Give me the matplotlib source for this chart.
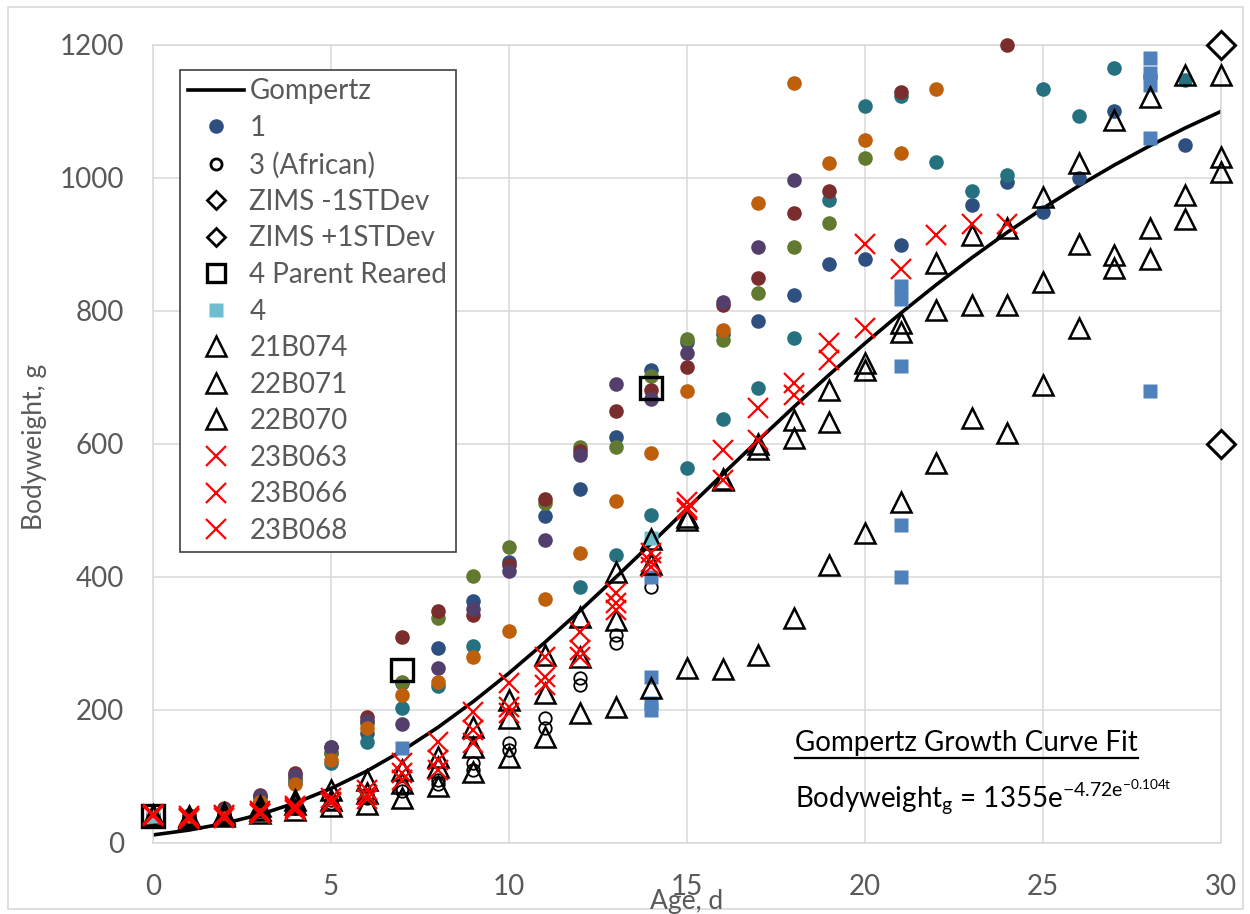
import matplotlib
matplotlib.use("Agg")
import matplotlib.pyplot as plt
import numpy as np
from matplotlib.lines import Line2D
from matplotlib.patches import Rectangle

nan = np.nan

# Gompertz fit, read at whole days
age = list(range(31))
gompertz = [12.1, 19.3, 29.3, 42.8, 60.2, 81.9, 108.0, 138.7, 173.7, 212.8, 255.5,
            301.3, 349.5, 399.5, 450.8, 502.6, 554.3, 605.5, 655.6, 704.4, 751.4,
            796.5, 839.4, 880.0, 918.4, 954.4, 988.0, 1019.3, 1048.4, 1075.3, 1100.1]

# coloured birds (values from day 0 onwards)
bird1 = [40, 40, 48, 62, 95, 135, 165, 240, 293, 364, 423, 492, 532, 610, 711, 753,
         765, 785, 824, 871, 878, 899, nan, 959, 994, 949, 1000, 1100, nan, 1050]
bird_teal = [38, 38, 45, 60, 90, 120, 152, 203, 236, 296, nan, nan, 385, 433, 493, 564,
             638, 684, 759, 967, 1108, 1123, 1024, 980, 1004, 1134, 1093, 1165, 1154, 1147]
bird_olive = [42, 40, 50, 68, 98, 135, 180, 242, 338, 401, 445, 511, 596, 596, 702, 758,
              757, 827, 896, 932, 1030]
bird_red = [42, 42, 52, 72, 105, 145, 190, 310, 349, 343, 418, 517, 590, 650, 681, 716,
            809, 850, 947, 981, nan, 1129, nan, nan, 1200]
bird_purple = [40, 40, 50, 70, 102, 145, 183, 179, 263, 352, 409, 456, 583, 690, 668, 737,
               813, 896, 997]
bird_orange = [38, 38, 45, 62, 88, 125, 173, 222, 242, 280, 319, 367, 436, 514, 586, 680,
               771, 962, 1143, 1022, 1057, 1038, 1134]

# 3 (African)
african_a = [40, 38, 42, 48, 55, 65, 72, 82, 95, 120, 150, 188, 248, 313, 385]
african_b = [38, 36, 40, 45, 52, 60, 68, 78, 88, 110, 140, 173, 238, 301]

# triangles
b21074 = [42, 40, 45, 55, 65, 80, 95, 110, 130, 175, 215, 283, 340, 408, 457, 490, 548,
          600, 636, 681, 722, 782, 872, 914, 925, 971, 1022, 1087, 1122, 1155, 1155]
b22071 = [40, 38, 42, 50, 58, 65, 75, 90, 115, 145, 188, 225, 280, 335, 420, 486, 546,
          593, 609, 633, 711, 769, 802, 809, 809, 843, 900, 884, 925, 974, 1032]
b22070 = [40, 38, 40, 45, 50, 55, 58, 68, 85, 107, 130, 160, 195, 205, 233, 263, 262,
          283, 338, 418, 466, 513, 571, 639, 616, 689, 774, 865, 878, 938, 1009]

# crosses
b23063 = [42, 40, 42, 48, 55, 68, 80, 120, 152, 197, 240, 280, 317, 376, 436, 512, 591,
          654, 692, 752, 901, 863, 914, 931, 931]
b23066 = [40, 38, 40, 45, 52, 62, 72, 105, 125, 170, 205, 250, 290, 361, 423, 504, 546,
          606, 674, 726, 774]
b23068 = [44, 36, 38, 44, 50, 60, 66, 95, 110, 150, 195, 238, 280, 350, 415, 500]

# squares
sq_age = [7, 14, 14, 14, 14, 21, 21, 21, 21, 21, 28, 28, 28, 28, 28]
sq_val = [143, 250, 210, 200, 400, 838, 818, 718, 478, 400, 1180, 1158, 1140, 1060, 680]
bird4_age = [0, 14]
bird4_val = [40, 459]
parent_age = [0, 7, 14]
parent_val = [40, 260, 684]
zims_age = [30]
zims_minus = [600]
zims_plus = [1200]

plt.rcParams['font.family'] = ['Lato', 'DejaVu Sans']
plt.rcParams['mathtext.fontset'] = 'custom'
plt.rcParams['mathtext.rm'] = 'Lato'
plt.rcParams['mathtext.it'] = 'Lato:italic'
plt.rcParams['mathtext.default'] = 'regular'

gray = '#595959'
fig = plt.figure(figsize=(12.5, 9.14), dpi=100)
ax = fig.add_axes([0.1224, 0.0777, 0.8544, 0.8731])

ax.plot(age, gompertz, color='black', lw=2.6, label='Gompertz', zorder=2)


def dots(vals, color, label='_nolegend_'):
    ax.plot(range(len(vals)), vals, ls='none', marker='o', ms=10.5, color=color,
            mec='none', label=label, clip_on=False, zorder=3)


dots(bird1, '#2d5080', '1')
for vals, col in [(bird_teal, '#26717f'), (bird_olive, '#627a2f'), (bird_red, '#7b2c2c'),
                  (bird_purple, '#533f6b'), (bird_orange, '#be5f0b')]:
    dots(vals, col)
ax.plot(range(len(african_a)), african_a, ls='none', marker='o', ms=9, mfc='none',
        mec='black', mew=1.3, label='3 (African)', zorder=4)
ax.plot(range(len(african_b)), african_b, ls='none', marker='o', ms=9, mfc='none',
        mec='black', mew=1.3, zorder=4)
ax.plot(zims_age, zims_minus, ls='none', marker='D', ms=14, mfc='white', mec='black',
        mew=2.2, label='ZIMS -1STDev', clip_on=False, zorder=5)
ax.plot(zims_age, zims_plus, ls='none', marker='D', ms=14, mfc='white', mec='black',
        mew=2.2, label='ZIMS +1STDev', clip_on=False, zorder=5)
ax.plot(parent_age, parent_val, ls='none', marker='s', ms=16, mfc='none', mec='black',
        mew=2.4, label='4 Parent Reared', clip_on=False, zorder=5)
ax.plot(sq_age, sq_val, ls='none', marker='s', ms=9.5, color='#4f81bd', mec='none',
        clip_on=False, zorder=4)
ax.plot(bird4_age, bird4_val, ls='none', marker='s', ms=9.5, color='#6fbed0', mec='none',
        label='4', clip_on=False, zorder=4)
for vals, lab in [(b21074, '21B074'), (b22071, '22B071'), (b22070, '22B070')]:
    ax.plot(range(len(vals)), vals, ls='none', marker='^', ms=14, mfc='none', mec='black',
            mew=1.8, label=lab, clip_on=False, zorder=6)
for vals, lab in [(b23063, '23B063'), (b23066, '23B066'), (b23068, '23B068')]:
    ax.plot(range(len(vals)), vals, ls='none', marker='x', ms=14, mec='#ff0000',
            mew=1.6, label=lab, clip_on=False, zorder=7)

ax.set_xlim(0, 30)
ax.set_ylim(0, 1200)
ax.set_xticks(range(0, 31, 5))
ax.set_yticks(range(0, 1201, 200))
ax.grid(True, color='#d9d9d9', lw=1.1)
ax.set_axisbelow(True)
for s in ax.spines.values():
    s.set_color('#d9d9d9')
    s.set_linewidth(1.1)
ax.tick_params(length=0, labelsize=20, labelcolor=gray)
ax.tick_params(axis='y', pad=21)
ax.tick_params(axis='x', pad=22)

fig.text(35 / 1250, 1 - 447 / 914, 'Bodyweight, g', rotation=90, fontsize=19, color=gray,
         ha='center', va='center')
fig.text(687 / 1250, 1 - 901 / 914, 'Age, d', fontsize=19, color=gray, ha='center',
         va='center')

order = ['Gompertz', '1', '3 (African)', 'ZIMS -1STDev', 'ZIMS +1STDev', '4 Parent Reared',
         '4', '21B074', '22B071', '22B070', '23B063', '23B066', '23B068']
h, l = ax.get_legend_handles_labels()
lookup = dict(zip(l, h))
leg = ax.legend([lookup[k] for k in order], order, loc='upper left',
                bbox_to_anchor=(180 / 1250, 1 - 70 / 914), bbox_transform=fig.transFigure,
                fontsize=20, labelcolor=gray, frameon=True, fancybox=False,
                edgecolor='#404040', framealpha=1, borderpad=0.3, labelspacing=0.38,
                handlelength=2.0, handletextpad=0.2, borderaxespad=0)
leg.get_frame().set_linewidth(1.2)
for hd, lab in zip(leg.legend_handles, order):
    if lab.startswith('ZIMS'):
        hd.set_markersize(9)
        hd.set_markeredgewidth(2)
    if lab == '4 Parent Reared':
        hd.set_markersize(13)
    if lab == '3 (African)':
        hd.set_markersize(8)
        hd.set_markeredgewidth(2)

title = ax.text(795 / 1250, 1 - 743 / 914, 'Gompertz Growth Curve Fit', transform=fig.transFigure,
                fontsize=20, color='black', va='center', ha='left')
ax.text(795 / 1250, 1 - 797 / 914,
        r'Bodyweight$_{g}$ = 1355e$^{-4.72e^{-0.104t}}$', transform=fig.transFigure,
        fontsize=20, color='black', va='center', ha='left')

fig.canvas.draw()
bb = title.get_window_extent().transformed(fig.transFigure.inverted())
fig.add_artist(Line2D([bb.x0, bb.x1], [bb.y0 - 0.002, bb.y0 - 0.002], color='black', lw=1.6,
                      transform=fig.transFigure))
fig.add_artist(Rectangle((0.006, 0.006), 0.988, 0.986, transform=fig.transFigure, fill=False,
                         edgecolor='#d9d9d9', lw=1.2))

fig.savefig('out.png', dpi=100)
